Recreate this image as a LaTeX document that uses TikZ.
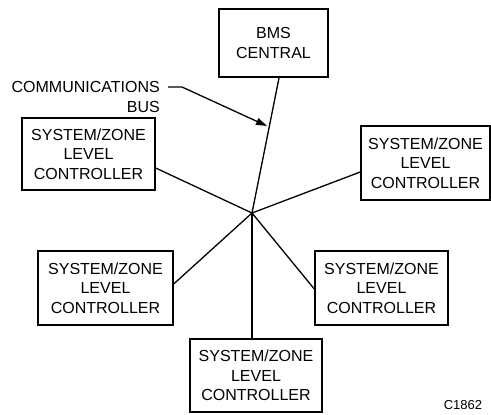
\documentclass[tikz,border=0pt]{standalone}
\usepackage{fontspec}
\setmainfont{Liberation Sans}
\usetikzlibrary{arrows.meta,calc}
\begin{document}
\begin{tikzpicture}[x=1pt,y=-1pt,
  ctrl/.style={draw,line width=1.4pt,rectangle,align=center,inner sep=0pt,
    font=\fontsize{16}{19.5}\selectfont},
  bus/.style={line width=1.3pt},
  lbl/.style={font=\fontsize{16}{19.5}\selectfont,inner sep=0pt}]
\useasboundingbox (0,0) rectangle (491,415);
\node[ctrl,line width=2.8pt,minimum width=109pt,minimum height=68pt] (bms) at (273.5,43) {BMS\\CENTRAL};
\node[ctrl,minimum width=133pt,minimum height=72pt] (lt) at (88.5,154) {SYSTEM/ZONE\\LEVEL\\CONTROLLER};
\node[ctrl,minimum width=129pt,minimum height=74pt] (rt) at (425.5,163) {SYSTEM/ZONE\\LEVEL\\CONTROLLER};
\node[ctrl,minimum width=135pt,minimum height=74pt] (bl) at (105.5,288) {SYSTEM/ZONE\\LEVEL\\CONTROLLER};
\node[ctrl,minimum width=133pt,minimum height=74pt] (br) at (381.5,288) {SYSTEM/ZONE\\LEVEL\\CONTROLLER};
\node[ctrl,minimum width=132pt,minimum height=73pt] (b) at (256,375.5) {SYSTEM/ZONE\\LEVEL\\CONTROLLER};
\coordinate (hub) at (252,213);
\coordinate (btop) at (279,78);
\draw[bus] (btop) -- (hub);
\draw[bus] (lt.east |- 0,168) -- (hub);
\draw[bus] (rt.west |- 0,172) -- (hub);
\draw[bus] (bl.east |- 0,284) -- (hub);
\draw[bus] (br.west |- 0,289) -- (hub);
\draw[bus] (hub) -- (hub |- b.north);
\node[lbl,anchor=east] (comm) at (160,87) {COMMUNICATIONS};
\node[lbl,anchor=east] (busl) at (160,107) {BUS};
\coordinate (tip) at (267,126);
\draw[bus,-{Stealth[length=11pt,width=7pt,inset=0pt]}] ($(comm.east)+(8,0)$) -- ++(14,0) -- (tip);
\node[inner sep=0pt,font=\fontsize{13}{15}\selectfont] (code) at (463,405) {C1862};
\end{tikzpicture}
\end{document}
